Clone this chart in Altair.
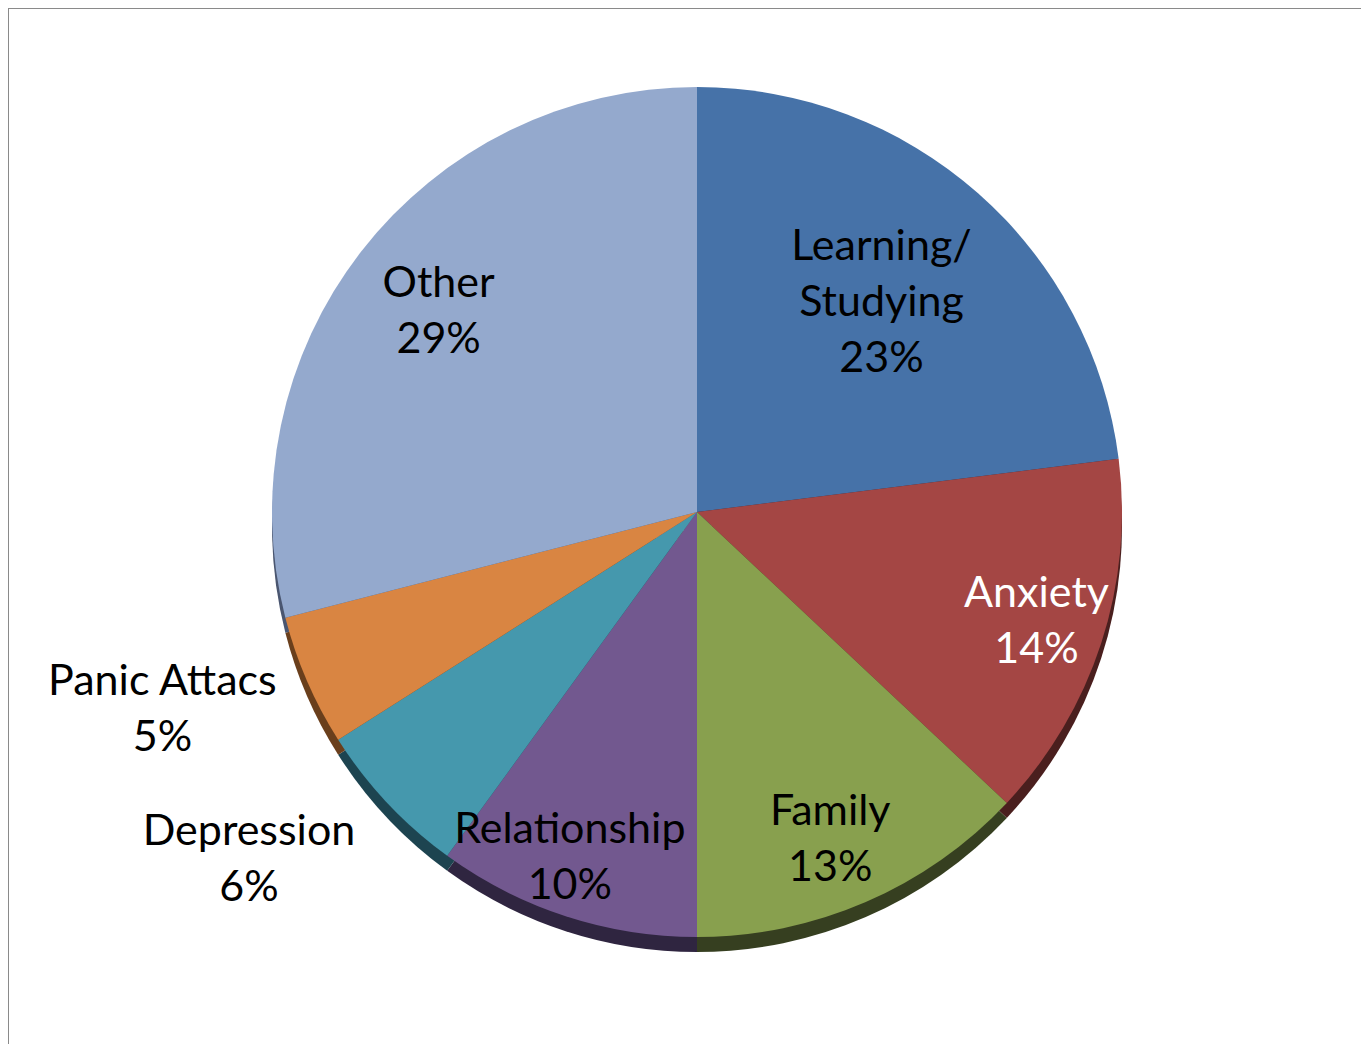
import altair as alt
import pandas as pd

categories = ["Learning/Studying", "Anxiety", "Family", "Relationship",
              "Depression", "Panic Attacs", "Other"]
values = [23, 14, 13, 10, 6, 5, 29]
colors = ["#4672A8", "#A44644", "#88A04E", "#72588F", "#4598AD", "#D98542", "#94A9CD"]
shadow_colors = ["#1F3350", "#4A1F1E", "#363F20", "#2F2540", "#1D4450", "#6A3F1C", "#4A5670"]

df = pd.DataFrame({"category": categories, "value": values,
                   "order": list(range(len(categories)))})

W, H = 1353, 1036
CX, CY, R = 689, 504, 425
TOTAL = sum(values)

theta = alt.Theta("value:Q", stack=True, scale=alt.Scale(domain=[0, TOTAL]))
order = alt.Order("order:Q")

shadow = alt.Chart(df).mark_arc(stroke=None).encode(
    theta=theta, order=order,
    color=alt.Color("category:N", scale=alt.Scale(domain=categories, range=shadow_colors), legend=None),
    x=alt.value(CX), y=alt.value(CY + 15), radius=alt.value(R),
)

pie = alt.Chart(df).mark_arc(stroke=None).encode(
    theta=theta, order=order,
    color=alt.Color("category:N", scale=alt.Scale(domain=categories, range=colors), legend=None),
    x=alt.value(CX), y=alt.value(CY), radius=alt.value(R),
)

# label placement (pixel radius and small angular nudge, in value units)
radius_expr = ("datum.category == 'Learning/Studying' ? 279 : "
               "datum.category == 'Other' ? 327 : "
               "datum.category == 'Anxiety' ? 357 : "
               "datum.category == 'Family' ? 354 : "
               "datum.category == 'Relationship' ? 369 : "
               "datum.category == 'Depression' ? 567 : 570")
nudge_expr = ("datum.category == 'Family' ? 0.36 : "
              "datum.category == 'Relationship' ? 0.6 : "
              "datum.category == 'Depression' ? 1.5 : "
              "datum.category == 'Panic Attacs' ? 0.86 : 0")

base_labels = alt.Chart(df).transform_window(
    cum="sum(value)", sort=[alt.SortField("order")], frame=[None, 0]
).transform_calculate(
    mid="datum.cum - datum.value / 2 + (" + nudge_expr + ")",
    label="replace(datum.category, '/', '/\\n') + '\\n' + datum.value + '%'",
    lr=radius_expr,
)

text_enc = dict(
    theta=alt.Theta("mid:Q", stack=None, scale=alt.Scale(domain=[0, TOTAL])),
    radius=alt.Radius("lr:Q", scale=None),
    text="label:N",
    x=alt.value(CX), y=alt.value(CY),
    color=alt.condition("datum.category == 'Anxiety'", alt.value("white"), alt.value("black")),
)
text_style = dict(font="Lato", fontSize=43, lineBreak="\n", lineHeight=56,
                  align="center", baseline="middle")

labels3 = base_labels.transform_filter(
    "indexof(datum.category, '/') >= 0"
).mark_text(dy=-56, **text_style).encode(**text_enc)

labels2 = base_labels.transform_filter(
    "indexof(datum.category, '/') < 0"
).mark_text(dy=-28, **text_style).encode(**text_enc)

frame_df = pd.DataFrame({"a": [0]})
left_edge = alt.Chart(frame_df).mark_rule(color="#8A8A8A", strokeWidth=2).encode(
    x=alt.value(0), y=alt.value(0), y2=alt.value(H))
top_edge = alt.Chart(frame_df).mark_rule(color="#8A8A8A", strokeWidth=2).encode(
    x=alt.value(0), x2=alt.value(W), y=alt.value(0))

chart = alt.layer(shadow, pie, labels3, labels2, left_edge, top_edge).resolve_scale(
    color="independent", theta="independent"
).properties(
    width=W, height=H, padding=0, autosize="none", background="white"
).configure_view(stroke=None)

chart.save("out.html", embed_options={"renderer": "svg", "actions": False})
